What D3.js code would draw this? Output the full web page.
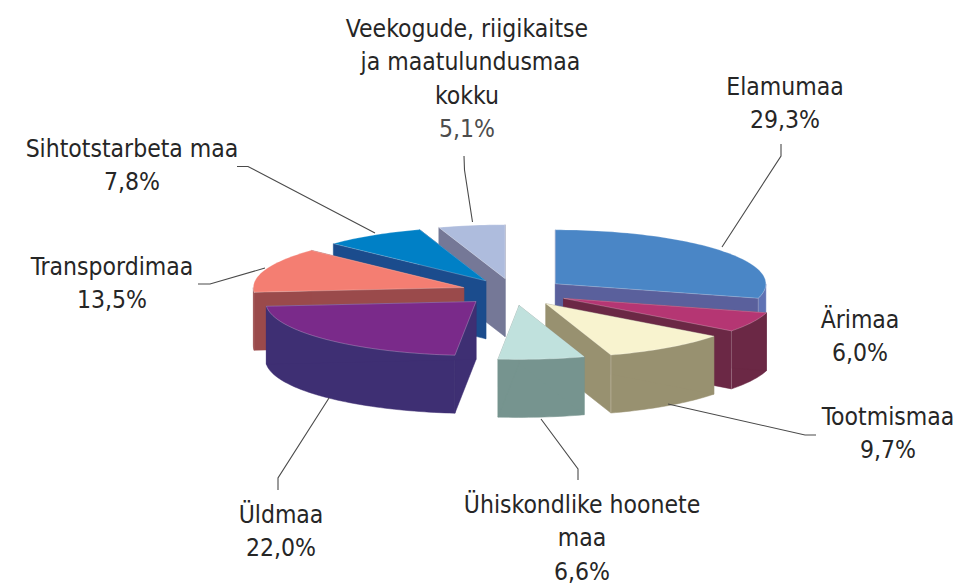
<!DOCTYPE html>
<html>
<head>
<meta charset="utf-8">
<script src="https://cdn.jsdelivr.net/npm/d3@7"></script>
<style>
  html, body { margin: 0; background: #fff; }
  text { font-family: "DejaVu Sans Condensed", "DejaVu Sans", sans-serif; font-stretch: condensed; font-size: 24.5px; fill: #262626; text-anchor: middle; }
  .leader { fill: none; stroke: #4a4a4a; stroke-width: 1.1; }
</style>
</head>
<body>
<div id="chart"></div>
<script>
const categories = ["Elamumaa", "Ärimaa", "Tootmismaa", "Ühiskondlike hoonete maa", "Üldmaa", "Transpordimaa", "Sihtotstarbeta maa", "Veekogude, riigikaitse ja maatulundusmaa kokku"];
const values = [29.3, 6.0, 9.7, 6.6, 22.0, 13.5, 7.8, 5.1];
const valueLabels = ["29,3%", "6,0%", "9,7%", "6,6%", "22,0%", "13,5%", "7,8%", "5,1%"];

const topColors = ["#4a86c6", "#b53673", "#f8f3cf", "#c0e1dd", "#7a2a8a", "#f47e72", "#0080c6", "#aebcdd"];
const sideColors = ["#5a609c", "#6b2845", "#989170", "#76948f", "#3e2f73", "#9a4a4b", "#1b4c8d", "#757897"];
const outerColors = ["#5f72b4", "#6b2845", "#989170", "#76948f", "#3e2f73", "#9a4a4b", "#1b4c8d", "#757897"];

// how far each slice is pulled out, as a share of the radius
const explodes = [0.25, 0.265, 0.265, 0.25, 0.25, 0.25, 0.245, 0.25];

// label lines and leader lines, same order as categories
const labelLayout = [
  { cx: 785, base: 95, lines: ["Elamumaa"], leader: [[781, 144], [781, 156], [722, 247]] },
  { cx: 860, base: 328, lines: ["Ärimaa"], leader: null },
  { cx: 888, base: 425, lines: ["Tootmismaa"], leader: [[816, 435], [805, 435], [668, 404]] },
  { cx: 582, base: 513, lines: ["Ühiskondlike hoonete", "maa"], leader: [[578, 480], [578, 469], [541, 419]] },
  { cx: 281, base: 523, lines: ["Üldmaa"], leader: [[278, 490], [278, 478], [329, 398]] },
  { cx: 112, base: 275, lines: ["Transpordimaa"], leader: [[198, 284], [210, 284], [265, 268]] },
  { cx: 132, base: 157, lines: ["Sihtotstarbeta maa"], leader: [[237, 166.5], [248, 166.5], [375, 233]] },
  { cx: 467, base: 37, lines: ["Veekogude, riigikaitse", " ja maatulundusmaa", "kokku"], leader: [[464, 156], [464.5, 170], [472.5, 222]], valueFill: "#4d4d4d" }
];

const width = 958, height = 585;
const cx = 513.5, cy = 292, rx = 210.5, ry = 54, depth = 58;
const lineGap = 33.3;

const x = d3.scaleLinear().domain([-1, 1]).range([cx - rx, cx + rx]);
const y = d3.scaleLinear().domain([-1, 1]).range([cy - ry, cy + ry]);

const svg = d3.select("#chart").append("svg")
  .attr("width", width)
  .attr("height", height)
  .style("display", "block");

const pie = d3.pie().sort(null).value(d => d);
const line = d3.line();

const slices = pie(values).map((d, i) => {
  const mid = (d.startAngle + d.endAngle) / 2;
  return { ...d, i, mid, ox: explodes[i] * Math.sin(mid), oy: -explodes[i] * Math.cos(mid) };
});

function rim(s, a) {
  return [x(s.ox + Math.sin(a)), y(s.oy - Math.cos(a))];
}
function arcPoints(s, a0, a1) {
  const n = Math.max(2, Math.ceil((a1 - a0) * 40));
  return d3.range(n + 1).map(k => rim(s, a0 + (a1 - a0) * k / n));
}
function drop(p) {
  return [p[0], p[1] + depth];
}
function face(g, pts, color) {
  return g.append("path")
    .attr("d", line(pts) + "Z")
    .attr("fill", color)
    .attr("stroke", color)
    .attr("stroke-width", 0.5)
    .attr("stroke-linejoin", "round");
}

// painter's order: far slices first
const ordered = slices.slice().sort((a, b) => d3.descending(Math.cos(a.mid), Math.cos(b.mid)));

ordered.forEach(s => {
  const g = svg.append("g").attr("class", "slice");
  const apex = [x(s.ox), y(s.oy)];
  const side = sideColors[s.i];

  const a0 = Math.max(s.startAngle, Math.PI / 2);
  const a1 = Math.min(s.endAngle, Math.PI * 1.5);
  if (a1 > a0) {
    const outer = arcPoints(s, a0, a1);
    face(g, outer.concat(outer.map(drop).reverse()), outerColors[s.i]);
  }

  [s.startAngle, s.endAngle].forEach(a => {
    const p = rim(s, a);
    face(g, [apex, p, drop(p), drop(apex)], side);
  });

  // faint light seam where the cut wall meets the rounded wall
  if (s.endAngle > Math.PI / 2 && s.endAngle < Math.PI) {
    const p = rim(s, s.endAngle);
    g.append("path")
      .attr("d", line([p, drop(p)]))
      .attr("stroke", "#fff")
      .attr("stroke-opacity", 0.3)
      .attr("stroke-width", 0.8);
  }

  face(g, [apex].concat(arcPoints(s, s.startAngle, s.endAngle)), topColors[s.i])
    .attr("stroke", "#fff")
    .attr("stroke-opacity", 0.35)
    .attr("stroke-width", 0.7);
});

labelLayout.forEach((l, i) => {
  if (l.leader) {
    svg.append("path").attr("class", "leader").attr("d", line(l.leader));
  }
  const t = svg.append("text").attr("xml:space", "preserve");
  l.lines.concat(valueLabels[i]).forEach((str, k) => {
    const span = t.append("tspan")
      .attr("x", l.cx)
      .attr("y", l.base + k * lineGap)
      .text(str);
    if (k === l.lines.length && l.valueFill) span.style("fill", l.valueFill);
  });
});
</script>
</body>
</html>
